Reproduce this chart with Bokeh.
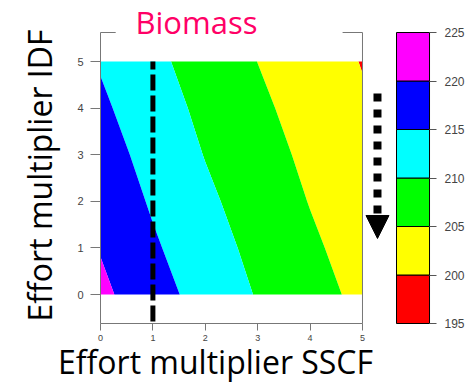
import math
import numpy as np
from bokeh.plotting import figure
from bokeh.models import Range1d, Label, Arrow, NormalHead, FixedTicker, LinearAxis
from bokeh.embed import file_html
from bokeh.resources import INLINE

# ---- data ----
effort_sscf = [0, 1, 2, 3, 4, 5]
effort_idf = [0, 1, 2, 3, 4, 5]
# biomass at grid points, rows = IDF multiplier 0..5, cols = SSCF multiplier 0..5
biomass = [
    [221.10, 216.94, 213.15, 209.69, 206.70, 203.89],
    [219.73, 215.64, 212.04, 208.74, 205.76, 203.06],
    [218.43, 214.44, 210.92, 207.79, 204.83, 202.24],
    [217.14, 213.32, 209.83, 206.85, 204.01, 201.42],
    [215.84, 212.21, 208.89, 205.90, 203.19, 200.60],
    [214.61, 211.09, 207.94, 204.96, 202.37, 199.80],
]
levels = [195, 200, 205, 210, 215, 220, 225]
band_colors = ["#FF0000", "#FFFF00", "#00FF00", "#00FFFF", "#0000FF", "#FF00FF"]
axis_ticks = [0, 1, 2, 3, 4, 5]
ref_sscf = 1
title_text = "Biomass"
x_label_text = "Effort multiplier SSCF"
y_label_text = "Effort multiplier IDF"

GREY = "#777777"
TICK_TXT = "#444444"

# frame = whole canvas; axes are pinned with fixed_location
X0, X1 = -1.9084, 7.042
Y0, Y1 = -2.060, 6.309
Y_BOT, Y_TOP = -0.622, 5.622          # plot box limits on the IDF axis
CB_LEFT, CB_RIGHT = 5.649, 6.279      # colour key position on the SSCF axis

p = figure(width=469, height=390, x_range=Range1d(X0, X1), y_range=Range1d(Y0, Y1),
           output_backend="svg", toolbar_location=None, min_border=0)
p.grid.visible = False
p.outline_line_color = None
p.background_fill_color = "white"
p.border_fill_color = "white"
p.extra_y_ranges = {"cb": Range1d(188.093, 228.299)}

p.contour(x=np.array(effort_sscf, dtype=float), y=np.array(effort_idf, dtype=float),
          z=np.array(biomass), levels=levels, fill_color=band_colors, line_color=None)

# box pieces (top interrupted around the title, right side full)
p.segment(x0=[0, 4.62], y0=[Y_TOP, Y_TOP], x1=[0.29, 5], y1=[Y_TOP, Y_TOP],
          line_color=GREY, line_width=1)
p.segment(x0=[5], y0=[Y_BOT], x1=[5], y1=[Y_TOP], line_color=GREY, line_width=1)

# reference line at SSCF multiplier 1
p.segment(x0=[ref_sscf], y0=[-0.58], x1=[ref_sscf], y1=[5.0],
          line_color="black", line_width=5, line_dash="16 5")

xa = p.xaxis[0]
ya = p.yaxis[0]
xa.fixed_location = Y_BOT
xa.bounds = (0, 5)
ya.fixed_location = 0
ya.bounds = (Y_BOT, Y_TOP)
for ax in (xa, ya):
    ax.ticker = FixedTicker(ticks=axis_ticks)
    ax.axis_line_color = GREY
    ax.major_tick_line_color = GREY
    ax.minor_tick_line_color = None
    ax.major_tick_in = 0
    ax.major_label_text_font = "Liberation Sans"
    ax.major_label_text_color = TICK_TXT
xa.major_tick_out = 7
xa.major_label_text_font_size = "9px"
xa.major_label_standoff = 5
ya.major_tick_out = 10
ya.major_label_text_font_size = "11px"
ya.major_label_standoff = 7

# colour key
p.quad(left=CB_LEFT, right=CB_RIGHT, bottom=levels[:-1], top=levels[1:],
       fill_color=band_colors, line_color="black", line_width=1, y_range_name="cb")
cax = LinearAxis(y_range_name="cb", fixed_location=CB_RIGHT, ticker=FixedTicker(ticks=levels))
cax.axis_line_color = None
cax.major_tick_line_color = "#555555"
cax.minor_tick_line_color = None
cax.major_tick_in = 0
cax.major_tick_out = 7
cax.major_label_standoff = 8
cax.major_label_text_font = "Liberation Sans"
cax.major_label_text_font_size = "12px"
cax.major_label_text_color = TICK_TXT
p.add_layout(cax, "right")

p.add_layout(Arrow(end=NormalHead(size=23, fill_color="black", line_color="black"),
                   x_start=5.286, y_start=4.313, x_end=5.286, y_end=1.202,
                   line_color="black", line_width=8, line_dash="8 8"))

# texts
p.add_layout(Label(x=0.668, y=5.837, text=title_text, text_font="Open Sans",
                   text_font_size="31px", text_color="#FF0066",
                   text_align="left", text_baseline="alphabetic"))
p.add_layout(Label(x=2.195, y=-1.438, text=x_label_text, text_font="Open Sans",
                   text_font_size="32px", text_color="black",
                   text_align="center", text_baseline="alphabetic"))
p.add_layout(Label(x=-1.164, y=2.554, text=y_label_text, text_font="Open Sans",
                   text_font_size="32px", text_color="black", angle=math.pi / 2,
                   text_align="center", text_baseline="alphabetic"))

open("out.html", "w").write(file_html(p, INLINE))
